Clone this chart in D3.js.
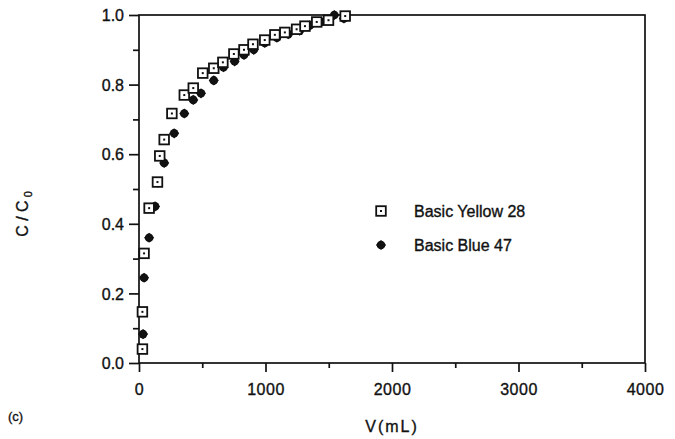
<!DOCTYPE html>
<html><head><meta charset="utf-8">
<script src="https://cdn.jsdelivr.net/npm/d3@7"></script>
<style>body{margin:0;background:#fff}svg{display:block}text{font-family:"Liberation Sans",Arial,sans-serif;fill:#111;stroke:#111;stroke-width:0.35px}</style>
</head><body><svg id="c" width="675" height="439"></svg>
<script>
const yellowV = [27,27,40,80,146,164,199,260,358,429,504,591,663,750,830,901,994,1074,1153,1246,1312,1405,1498,1630];
const yellowC = [0.04,0.147,0.315,0.445,0.52,0.595,0.642,0.717,0.77,0.79,0.833,0.847,0.864,0.888,0.90,0.916,0.928,0.943,0.95,0.959,0.968,0.98,0.985,0.997];
const blueV = [32,40,80,127,150,199,278,358,429,490,591,668,756,830,907,994,1090,1180,1270,1350,1440,1544,1620];
const blueC = [0.083,0.245,0.36,0.45,0.518,0.575,0.66,0.717,0.756,0.775,0.812,0.85,0.867,0.885,0.90,0.92,0.935,0.945,0.955,0.97,0.98,1.0,0.99];
const xTicks = [0,1000,2000,3000,4000];
const yTicks = [0.0,0.2,0.4,0.6,0.8,1.0];
const seriesNames = ["Basic Yellow 28","Basic Blue 47"];

const svg = d3.select("#c");
const L=139,R=645,T=15,B=363;
const x = d3.scaleLinear().domain([0,4000]).range([L,R]);
const y = d3.scaleLinear().domain([0,1]).range([B,T]);

svg.append("rect").attr("x",L).attr("y",T).attr("width",R-L).attr("height",B-T)
  .attr("fill","none").attr("stroke","#111").attr("stroke-width",1.7);

const xa = svg.append("g").attr("transform",`translate(0,${B})`)
  .call(d3.axisBottom(x).tickValues(xTicks).tickFormat(d3.format("d")).tickSize(9).tickPadding(12));
const xm = svg.append("g").attr("transform",`translate(0,${B})`)
  .call(d3.axisBottom(x).tickValues(d3.range(500,4000,1000)).tickFormat("").tickSize(5));
const ya = svg.append("g").attr("transform",`translate(${L},0)`)
  .call(d3.axisLeft(y).tickValues(yTicks).tickFormat(d3.format(".1f")).tickSize(10).tickPadding(5));
const ym = svg.append("g").attr("transform",`translate(${L},0)`)
  .call(d3.axisLeft(y).tickValues(d3.range(0.1,1,0.2)).tickFormat("").tickSize(6));
[xa,xm,ya,ym].forEach(g=>{
  g.select(".domain").remove();
  g.selectAll("line").attr("stroke","#111").attr("stroke-width",1.7);
  g.selectAll("text").style("font-size","16px").style("fill","#111").attr("font-family",null);
});
ya.selectAll("text").attr("dy","0.36em");
xa.selectAll("text").attr("letter-spacing","0.5");

svg.append("text").attr("x",392).attr("y",432).attr("text-anchor","middle").style("font-size","16px")
  .attr("letter-spacing","2").text("V(mL)");
svg.append("text").attr("x",8).attr("y",421).style("font-size","13px").text("(c)");
const yt = svg.append("text").attr("transform","translate(28,214) rotate(-90)").attr("text-anchor","middle").style("font-size","16px");
yt.append("tspan").text("C / C");
yt.append("tspan").attr("dy",4).attr("dx",3).style("font-size","11px").text("0");

function square(g,cx,cy){
  g.append("rect").attr("x",cx-4.8).attr("y",cy-4.8).attr("width",9.6).attr("height",9.6)
    .attr("fill","#fff").attr("stroke","#111").attr("stroke-width",1.8);
  g.append("rect").attr("x",cx-1).attr("y",cy-1).attr("width",2).attr("height",2).attr("fill","#111");
}
function blob(g,cx,cy){
  g.append("circle").attr("cx",cx).attr("cy",cy).attr("r",4.3).attr("fill","#111");
  g.append("rect").attr("x",-3.6).attr("y",-3.6).attr("width",7.2).attr("height",7.2)
    .attr("transform",`translate(${cx},${cy}) rotate(45)`).attr("fill","#111");
}
const gb = svg.append("g");
blueV.forEach((v,i)=>blob(gb,x(v),y(blueC[i])));
const gy = svg.append("g");
yellowV.forEach((v,i)=>square(gy,x(v),y(yellowC[i])));

const lg = svg.append("g");
square(lg,381,211);
blob(lg,381,245);
lg.append("text").attr("x",414).attr("y",217).style("font-size","16px").text(seriesNames[0]);
lg.append("text").attr("x",414).attr("y",251).style("font-size","16px").text(seriesNames[1]);
</script></body></html>
